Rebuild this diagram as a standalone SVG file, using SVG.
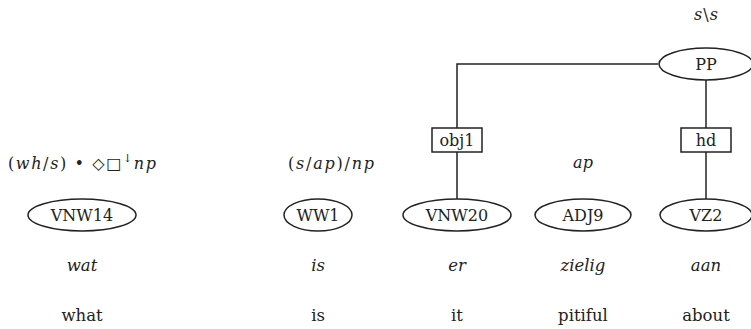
<svg xmlns="http://www.w3.org/2000/svg" width="751" height="329" viewBox="0 0 751 329" font-family="'DejaVu Serif', 'Liberation Serif', serif">
<style>
text{font-family:'DejaVu Serif','Liberation Serif',serif;font-size:16px;fill:#222;text-anchor:middle}
.it{font-style:italic}
.w{font-size:16.5px}
.node ellipse,.lab rect{fill:#fff;stroke:#222;stroke-width:1.5}
#connectors path{fill:none;stroke:#222;stroke-width:1.5}
</style>
<rect width="751" height="329" fill="#fff"/>
<g id="connectors">
<path d="M658,64 H457 V199"/>
<path d="M706,80 V199"/>
</g>
<g id="lab-obj1" class="lab"><rect x="432" y="128" width="50" height="24"/><text x="457" y="146" font-size="15">obj1</text></g>
<g id="lab-hd" class="lab"><rect x="681" y="128" width="50" height="24"/><text x="706" y="146" font-size="15">hd</text></g>
<g id="node-PP" class="node"><ellipse cx="706" cy="64" rx="47" ry="16"/><text x="706" y="70">PP</text></g>
<g id="node-VNW14" class="node"><ellipse cx="82" cy="215" rx="54" ry="16"/><text x="82" y="221">VNW14</text></g>
<g id="node-WW1" class="node"><ellipse cx="318" cy="215" rx="34" ry="16"/><text x="318" y="221">WW1</text></g>
<g id="node-VNW20" class="node"><ellipse cx="457" cy="215" rx="54" ry="16"/><text x="457" y="221">VNW20</text></g>
<g id="node-ADJ9" class="node"><ellipse cx="583" cy="215" rx="48" ry="16"/><text x="583" y="221">ADJ9</text></g>
<g id="node-VZ2" class="node"><ellipse cx="706" cy="215" rx="46" ry="16"/><text x="706" y="221">VZ2</text></g>
<g id="categories">
<text x="82" y="169" textLength="148" lengthAdjust="spacing">(<tspan class="it">wh</tspan>/<tspan class="it">s</tspan>) • ◇□<tspan dy="-7" font-size="11">↓</tspan><tspan dy="7" class="it">np</tspan></text>
<text x="331" y="169" textLength="86" lengthAdjust="spacing">(<tspan class="it">s</tspan>/<tspan class="it">ap</tspan>)/<tspan class="it">np</tspan></text>
<text x="583" y="168" class="it">ap</text>
<text x="706" y="20" textLength="24" lengthAdjust="spacing"><tspan class="it">s</tspan>\<tspan class="it">s</tspan></text>
</g>
<g id="words">
<text x="82" y="271" class="it w">wat</text>
<text x="318" y="271" class="it w">is</text>
<text x="457" y="271" class="it w">er</text>
<text x="583" y="271" class="it w">zielig</text>
<text x="706" y="271" class="it w">aan</text>
</g>
<g id="gloss">
<text x="82" y="321" class="w">what</text>
<text x="318" y="321" class="w">is</text>
<text x="457" y="321" class="w">it</text>
<text x="583" y="321" class="w">pitiful</text>
<text x="706" y="321" class="w">about</text>
</g>
</svg>
